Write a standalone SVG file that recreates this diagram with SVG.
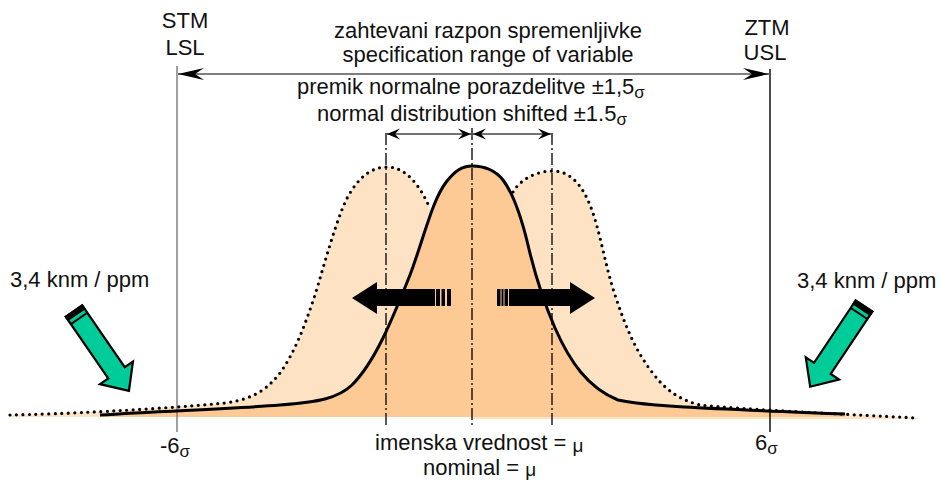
<svg xmlns="http://www.w3.org/2000/svg" width="939" height="481" viewBox="0 0 939 481">
<style>
  text { font-family: "Liberation Sans", Arial, sans-serif; font-size: 22px; fill: #111; }
  .sub { font-size: 17px; }
  .mu { font-size: 19px; }
  .light { fill: #FDE2C4; stroke: none; }
  .dark { fill: #FDCA96; stroke: none; }
  .solid { fill: none; stroke: #000; stroke-width: 3; stroke-linejoin: round; }
  .dotted { fill: none; stroke: #000; stroke-width: 3.2; stroke-dasharray: 0 6.5; stroke-linecap: round; }
  .dashdot { fill: none; stroke: #111; stroke-width: 1.4; stroke-dasharray: 12 3 2 3; }
  .limit { fill: none; stroke-width: 1.4; }
  .dim { fill: none; stroke: #000; stroke-width: 1.2; }
  .dim2 { fill: none; stroke: #444; stroke-width: 1.5; }
  .green { fill: #00CC99; stroke: #000; stroke-width: 2.2; stroke-linejoin: miter; }
  .blk { fill: #000; }
</style>
<defs>
  <marker id="ah" viewBox="-27 -7 28 14" markerWidth="28" markerHeight="14" refX="0" refY="0" orient="auto-start-reverse" markerUnits="userSpaceOnUse">
    <path d="M0,0 L-26,-6 L-17,0 L-26,6 Z" fill="#000"/>
  </marker>
  <marker id="ahs" viewBox="-14 -6 15 12" markerWidth="15" markerHeight="12" refX="0" refY="0" orient="auto-start-reverse" markerUnits="userSpaceOnUse">
    <path d="M0,0 L-13,-5.5 L-8,0 L-13,5.5 Z" fill="#000"/>
  </marker>
  <g id="greenArrow">
    <path class="green" d="M0,-10 L75,-10 L75,-20 L97,0 L75,20 L75,10 L0,10 Z"/>
    <rect class="blk" x="-1" y="-11" width="6" height="22"/>
    <rect class="blk" x="8" y="-10" width="2" height="20"/>
  </g>
</defs>

<g id="fills">
  <path class="light" d="M10,415 C60,414 150,410 225,403 C255,399 268,388 280,373 C295,352 305,325 315,295 C325,262 333,232 343,207 C353,183 368,167 387,167 C403,167 415,180 424,196 L430,208 L472,416 L10,417 Z"/>
  <path class="light" d="M472,418 L512,192 C520,180 535,171 553,171 C570,171 582,185 590,205 C600,230 605,265 615,295 C625,325 635,350 652,372 C665,390 680,400 700,405 C740,409 800,412 917,418 L917,419 L472,419 Z"/>
  <path class="dark" d="M100,415 C160,411 230,409 280,405 C320,402 338,398 352,385 C375,362 392,320 410,275 C425,235 432,200 447,181 C455,171 462,166 472,166 C485,166 495,170 503,180 C515,196 522,220 528,245 C535,275 545,305 555,328 C570,362 588,388 618,400 C650,407 720,409 845,414 L845,417 L100,417 Z"/>
</g>

<g id="connectors">
  <line class="limit" x1="177" y1="66" x2="177" y2="432" stroke="#777"/>
  <line class="limit" x1="770" y1="69" x2="770" y2="432" stroke="#000"/>
  <line class="dashdot" x1="386" y1="133" x2="386" y2="428"/>
  <line class="dashdot" x1="472" y1="128" x2="472" y2="428"/>
  <line class="dashdot" x1="552" y1="133" x2="552" y2="428"/>
  <line class="dim" x1="178" y1="74" x2="769" y2="74" marker-start="url(#ah)" marker-end="url(#ah)"/>
  <line class="dim2" x1="387" y1="134" x2="471" y2="134" marker-start="url(#ahs)" marker-end="url(#ahs)"/>
  <line class="dim2" x1="473" y1="134" x2="551" y2="134" marker-start="url(#ahs)" marker-end="url(#ahs)"/>
</g>

<g id="curves">
  <path class="dotted" d="M10,415 C60,414 150,410 225,403 C255,399 268,388 280,373 C295,352 305,325 315,295 C325,262 333,232 343,207 C353,183 368,167 387,167 C403,167 415,180 424,196 L429,206"/>
  <path class="dotted" d="M513,192 C520,180 535,171 553,171 C570,171 582,185 590,205 C600,230 605,265 615,295 C625,325 635,350 652,372 C665,390 680,400 700,405 C740,409 800,412 917,418"/>
  <path class="solid" d="M100,415 C160,411 230,409 280,405 C320,402 338,398 352,385 C375,362 392,320 410,275 C425,235 432,200 447,181 C455,171 462,166 472,166 C485,166 495,170 503,180 C515,196 522,220 528,245 C535,275 545,305 555,328 C570,362 588,388 618,400 C650,407 720,409 845,414"/>
</g>

<g id="shift-left">
  <path class="blk" d="M352,298 L377,282 L377,289 L435,289 L435,306 L377,306 L377,314 Z"/>
  <rect class="blk" x="436" y="289" width="4" height="17"/>
  <rect class="blk" x="441.5" y="289" width="3.5" height="17"/>
  <rect class="blk" x="447" y="289" width="4" height="17"/>
</g>
<g id="shift-right">
  <path class="blk" d="M595,298 L570,282 L570,289 L509,289 L509,306 L570,306 L570,314 Z"/>
  <rect class="blk" x="497" y="289" width="3.5" height="17"/>
  <rect class="blk" x="501.5" y="289" width="2" height="17"/>
  <rect class="blk" x="504.5" y="289" width="3.5" height="17"/>
</g>

<g id="green-left"><use href="#greenArrow" transform="translate(74,311) rotate(55.5)"/></g>
<g id="green-right"><use href="#greenArrow" transform="translate(864,306) rotate(123.7)"/></g>

<g id="labels">
  <text x="185" y="28" text-anchor="middle">STM</text>
  <text x="185" y="55" text-anchor="middle">LSL</text>
  <text x="767" y="35" text-anchor="middle">ZTM</text>
  <text x="765" y="60" text-anchor="middle">USL</text>
  <text x="488" y="38" text-anchor="middle">zahtevani razpon spremenljivke</text>
  <text x="488" y="62" text-anchor="middle">specification range of variable</text>
  <text x="297" y="94">premik normalne porazdelitve ±1,5<tspan class="sub" dy="4">σ</tspan></text>
  <text x="317" y="121">normal distribution shifted ±1.5<tspan class="sub" dy="4">σ</tspan></text>
  <text x="10" y="287">3,4 knm / ppm</text>
  <text x="797" y="288">3,4 knm / ppm</text>
  <text x="160" y="453">-6<tspan class="sub" dy="4">σ</tspan></text>
  <text x="755" y="450">6<tspan class="sub" dy="4">σ</tspan></text>
  <text x="375" y="450">imenska vrednost = <tspan class="mu" dy="2">μ</tspan></text>
  <text x="423" y="475">nominal = <tspan class="mu" dy="1">μ</tspan></text>
</g>
</svg>
